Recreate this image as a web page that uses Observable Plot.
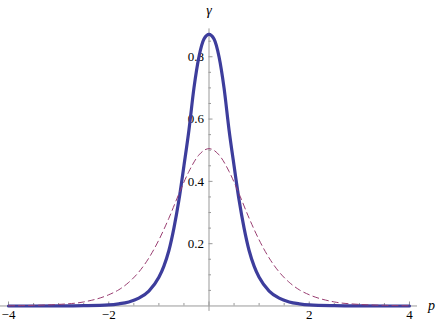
<!DOCTYPE html>
<html><head><meta charset="utf-8">
<script src="https://cdn.jsdelivr.net/npm/d3@7"></script>
<script src="https://cdn.jsdelivr.net/npm/@observablehq/plot@0.6"></script>
<style>html,body{margin:0;padding:0;background:#fff}svg{display:block}</style>
</head><body><div id="chart"></div>
<script>
// ---- data ----
const pSolid = [-4,-3.5,-3,-2.5,-2,-1.8,-1.6,-1.4,-1.2,-1,-0.9,-0.8,-0.7,-0.6,-0.5,-0.4,-0.3,-0.2,-0.1,0,
                0.1,0.2,0.3,0.4,0.5,0.6,0.7,0.8,0.9,1,1.2,1.4,1.6,1.8,2,2.5,3,3.5,4];
const gammaSolid = [0,0,0.0002,0.001,0.0035,0.007,0.013,0.025,0.048,0.092,0.128,0.178,0.25,0.34,0.45,0.565,0.70,0.80,0.857,0.872,
                0.857,0.80,0.70,0.565,0.45,0.34,0.25,0.178,0.128,0.092,0.048,0.025,0.013,0.007,0.0035,0.001,0.0002,0,0];
const pDashed = [-4,-3.5,-3,-2.5,-2,-1.8,-1.6,-1.4,-1.2,-1,-0.8,-0.6,-0.4,-0.2,0,
                 0.2,0.4,0.6,0.8,1,1.2,1.4,1.6,1.8,2,2.5,3,3.5,4];
const gammaDashed = [0.0007,0.002,0.005,0.013,0.036,0.052,0.076,0.109,0.154,0.212,0.282,0.36,0.432,0.485,0.505,
                 0.485,0.432,0.36,0.282,0.212,0.154,0.109,0.076,0.052,0.036,0.013,0.005,0.002,0.0007];

const xMajorTicks = [-4,-2,0,2,4];
const xMinorTicks = [-4,-3.5,-3,-2.5,-2,-1.5,-1,-0.5,0.5,1,1.5,2,2.5,3,3.5,4];
const xLabelTicks = [-4,-2,2,4];
const xTickLabels = ["\u22124","\u22122","2","4"];
const yMajorTicks = [0.2,0.4,0.6,0.8];
const yMinorTicks = [0.05,0.1,0.15,0.25,0.3,0.35,0.45,0.5,0.55,0.65,0.7,0.75,0.85];
const yTickLabels = ["0.2","0.4","0.6","0.8"];
const xTitle = "p", yTitle = "\u03b3";
const xDomain = [-4.16, 4.16];
const yDomain = [-0.0174, 0.8894];

const solid = pSolid.map((p,i) => ({p, g: gammaSolid[i]}));
const dashed = pDashed.map((p,i) => ({p, g: gammaDashed[i]}));

// ---- layout ----
const W = 436, H = 327, mL = 0, mR = 19, mT = 28.4, mB = 16.1;
const xs = Plot.scale({x: {domain: xDomain, range: [mL, W - mR]}});
const ys = Plot.scale({y: {domain: yDomain, range: [H - mB, mT]}});
const offX = xs.apply(0) - mL;          // y axis sits at p = 0
const offY = ys.apply(0) - (H - mB);    // x axis sits at gamma = 0
const axisColor = "#999999";
const font = "'Liberation Serif', 'Times New Roman', serif";
const majorLen = 4, minorLen = 2.5;

const chart = Plot.plot({
  width: W, height: H,
  marginLeft: mL, marginRight: mR, marginTop: mT, marginBottom: mB,
  style: {fontFamily: font, fontSize: "13px", background: "#fff", color: "#000", overflow: "visible"},
  x: {domain: xDomain, label: null},
  y: {domain: yDomain, label: null},
  marks: [
    Plot.ruleY([0], {stroke: axisColor, strokeWidth: 1}),
    Plot.ruleX([0], {stroke: axisColor, strokeWidth: 1}),
    Plot.axisX(xMinorTicks, {anchor: "bottom", tickSize: minorLen, dy: offY - minorLen, tickFormat: () => "", label: null, stroke: axisColor}),
    Plot.axisX(xMajorTicks, {anchor: "bottom", tickSize: majorLen, dy: offY - majorLen, tickFormat: () => "", label: null, stroke: axisColor}),
    Plot.axisX(xLabelTicks, {anchor: "bottom", tickSize: 0, tickPadding: 4, dy: offY, tickFormat: d => xTickLabels[xLabelTicks.indexOf(d)], label: null, fill: "#000", fontSize: 13, fontFamily: font}),
    Plot.axisY(yMinorTicks, {anchor: "left", tickSize: minorLen, dx: offX + minorLen, tickFormat: () => "", label: null, stroke: axisColor}),
    Plot.axisY(yMajorTicks, {anchor: "left", tickSize: majorLen, dx: offX + majorLen, tickFormat: () => "", label: null, stroke: axisColor}),
    Plot.axisY(yMajorTicks, {anchor: "left", tickSize: 0, tickPadding: 5, dx: offX, tickFormat: d => yTickLabels[yMajorTicks.indexOf(d)], label: null, fill: "#000", fontSize: 13, fontFamily: font}),
    Plot.line(solid, {x: "p", y: "g", stroke: "#3d3d9c", strokeWidth: 3.2, curve: "monotone-x"}),
    Plot.line(dashed, {x: "p", y: "g", stroke: "#993d71", strokeWidth: 1, strokeDasharray: "6,4", curve: "monotone-x"}),
    Plot.text([{t: xTitle}], {x: xDomain[1], y: 0, text: "t", dx: 14, textAnchor: "middle", fontStyle: "italic", fontSize: 14, fontFamily: font, fill: "#000"}),
    Plot.text([{t: yTitle}], {x: 0, y: yDomain[1], text: "t", dy: -14, lineAnchor: "bottom", textAnchor: "middle", fontStyle: "italic", fontSize: 14, fontFamily: font, fill: "#000"})
  ]
});
document.getElementById("chart").appendChild(chart);
</script>
</body></html>
